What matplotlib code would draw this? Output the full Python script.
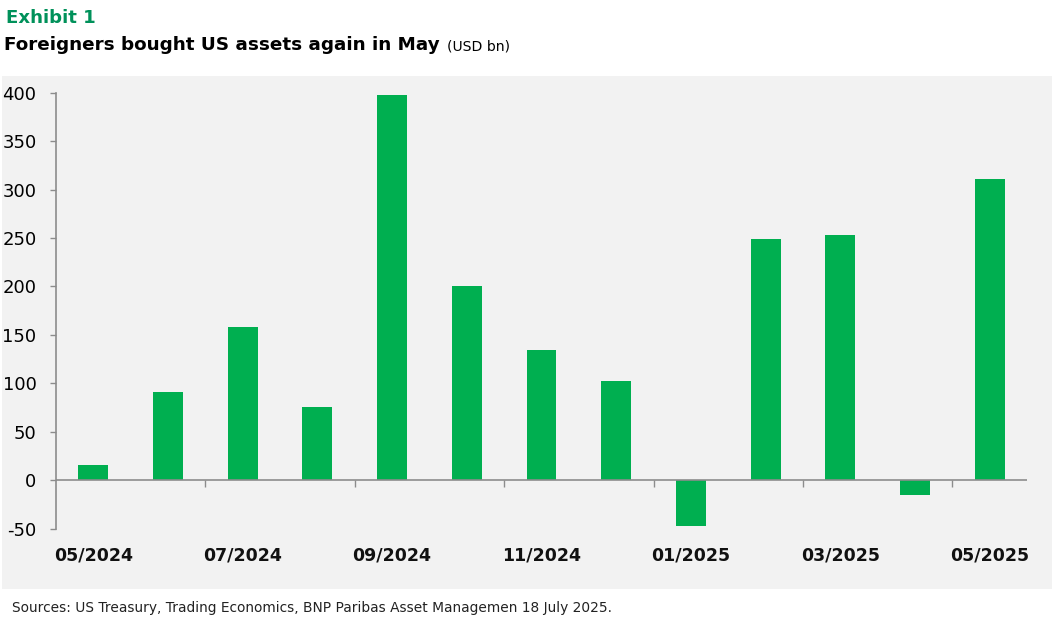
import matplotlib
matplotlib.use("Agg")
import matplotlib.pyplot as plt
from matplotlib.patches import Rectangle

months = ["05/2024", "06/2024", "07/2024", "08/2024", "09/2024", "10/2024", "11/2024",
          "12/2024", "01/2025", "02/2025", "03/2025", "04/2025", "05/2025"]
values = [16, 91, 158, 76, 398, 201, 134, 102, -47, 249, 253, -15, 311]
yticks = [-50, 0, 50, 100, 150, 200, 250, 300, 350, 400]

W, H = 1054, 619
fig = plt.figure(figsize=(W / 100, H / 100), dpi=100)
fig.patch.set_facecolor("white")

# gray panel
fig.patches.append(Rectangle((2 / W, 1 - 589 / H), (1052 - 2) / W, (589 - 76) / H,
                             transform=fig.transFigure, facecolor="#F2F2F2",
                             edgecolor="none", zorder=-5))

ax = fig.add_axes([56 / W, 1 - 528.7 / H, (1027 - 56) / W, (528.7 - 92.7) / H])
ax.set_zorder(2)
ax.set_facecolor("none")

x = list(range(len(months)))
ax.bar(x, values, width=0.4, color="#00AF50", zorder=2)
ax.set_xlim(-0.5, len(months) - 0.5)
ax.set_ylim(-50, 400)

for s in ["top", "right", "bottom"]:
    ax.spines[s].set_visible(False)
ax.spines["left"].set_color("#8C8C8C")
ax.spines["left"].set_linewidth(1.2)

ax.set_yticks(yticks)
ax.set_yticklabels([str(v) for v in yticks])
ax.tick_params(axis="y", length=4.5, width=1.0, color="#8C8C8C", pad=9.5,
               labelsize=13, labelcolor="black")

ax.set_xticks(x[::2])
ax.set_xticklabels(months[::2])
ax.tick_params(axis="x", length=0, pad=12.5, labelsize=12.5, labelcolor="#111111")
for lab in ax.get_xticklabels():
    lab.set_fontweight("bold")

# zero line and boundary ticks
ax.axhline(0, color="#8C8C8C", linewidth=1.2, zorder=3)
bounds = [i + 1.5 for i in range(0, len(months) - 2, 2)]
ax.vlines(bounds, 0, -6.5, color="#8C8C8C", linewidth=1.0, zorder=3)

fig.canvas.draw()
renderer = fig.canvas.get_renderer()

def fit(txt, target_w):
    bb = txt.get_window_extent(renderer)
    txt.set_fontsize(txt.get_fontsize() * target_w / bb.width)

t1 = fig.text(6 / W, 1 - 23 / H, "Exhibit 1", color="#00915A", fontsize=16,
              fontweight="bold", family=["DejaVu Sans Condensed", "DejaVu Sans"],
              va="baseline")
fit(t1, 96 - 6)
t2 = fig.text(4 / W, 1 - 50 / H, "Foreigners bought US assets again in May", color="black",
              fontsize=18, fontweight="bold",
              family=["DejaVu Sans Condensed", "DejaVu Sans"],
              va="baseline")
fit(t2, 441 - 4)
t3 = fig.text(447 / W, 1 - 50 / H, "(USD bn)", color="black", fontsize=10,
              family=["DejaVu Sans Condensed", "DejaVu Sans"], va="baseline")
fit(t3, 510 - 447)
t4 = fig.text(12 / W, 1 - 612 / H,
              "Sources: US Treasury, Trading Economics, BNP Paribas Asset Managemen 18 July 2025.",
              color="#222222", fontsize=11, family=["DejaVu Sans"], va="baseline")
fit(t4, 610 - 12)

fig.savefig("out.png", dpi=100)
